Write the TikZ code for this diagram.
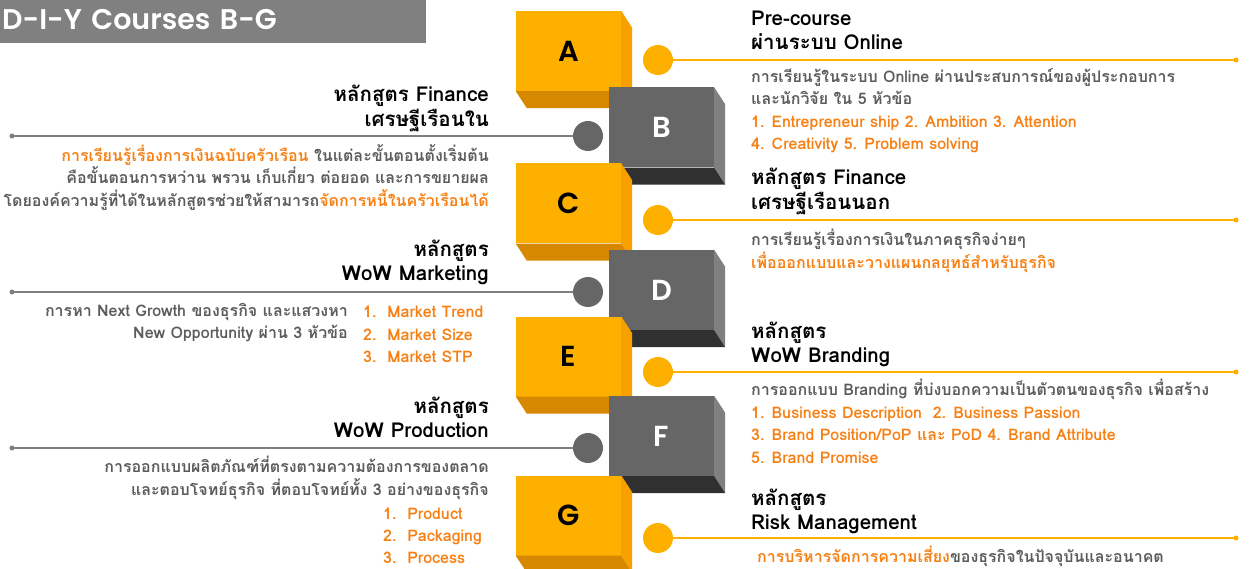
\documentclass[tikz,border=0pt]{standalone}
\usepackage{fontspec}
\setmainfont[Script=Thai]{Loma}
\newfontfamily\latinfont{Poppins}[BoldFont={Poppins SemiBold}]
\usetikzlibrary{calc}

\definecolor{ofront}{RGB}{253,176,0}
\definecolor{oside}{RGB}{248,160,0}
\definecolor{obot}{RGB}{214,136,0}
\definecolor{gfront}{RGB}{102,102,102}
\definecolor{gside}{RGB}{128,128,128}
\definecolor{gbot}{RGB}{48,48,48}
\definecolor{headgray}{RGB}{128,128,128}
\definecolor{txtgray}{RGB}{92,92,92}
\definecolor{hlorange}{RGB}{247,128,20}
\newcommand{\hlo}[1]{\textcolor{hlorange}{#1}}

\begin{document}
\begin{tikzpicture}[x=1pt, y=-1pt,
    block/.style={minimum width=105pt, minimum height=80pt, inner sep=0pt,
      font=\latinfont\bfseries\fontsize{29}{29}\selectfont},
    odot/.style={circle, fill=ofront, minimum size=30pt, inner sep=0pt},
    gdot/.style={circle, fill=gfront, minimum size=30pt, inner sep=0pt},
    oline/.style={draw=ofront, line width=1.5pt},
    gline/.style={draw=gside, line width=1.5pt},
    title/.style={inner sep=0pt, text=black, font=\bfseries\fontsize{20.5}{24.5}\selectfont},
    desc/.style={inner sep=0pt, text=txtgray, font=\bfseries\fontsize{16}{22.5}\selectfont}]

  \useasboundingbox (0,0) rectangle (1249,569);

  % header
  \node[fill=headgray, anchor=north west, minimum height=43pt, text width=422pt,
    inner xsep=2pt, align=left, text=white, text height=20pt, text depth=4pt,
    font=\latinfont\bfseries\fontsize{28.5}{28.5}\selectfont] (head) at (0,0) {D-I-Y Courses B-G};

  % the blocks
  \foreach \n/\cx/\cy/\fr/\si/\bo/\tc in {A/568.5/51/ofront/oside/obot/black,
      B/661.5/127.5/gfront/gside/gbot/white, C/568.5/203.5/ofront/oside/obot/black,
      D/661.5/290/gfront/gside/gbot/white, E/568.5/356.5/ofront/oside/obot/black,
      F/661.5/436/gfront/gside/gbot/white, G/568.5/515.5/ofront/oside/obot/black}{
    \node[block, fill=\fr, text=\tc] (\n) at (\cx,\cy) {\n};
    \fill[\si] (\n.north east) -- ++(11,17) -- ($(\n.south east)+(11,17)$) -- (\n.south east) -- cycle;
    \fill[\bo] (\n.south west) -- ++(11,17) -- ($(\n.south east)+(11,17)$) -- (\n.south east) -- cycle;
  }

  % right side
  \node[odot] (cA) at (658,60) {};
  \coordinate (eA) at (1236,60);
  \draw[oline] (cA) -- (eA);
  \fill[ofront] (eA) circle (2.5);
  \node[title, anchor=south west, align=left] (tA) at (751,50) {Pre-course\\ผ่านระบบ Online};
  \node[desc, anchor=north west, align=left] (dA) at (751,68) {การเรียนรู้ในระบบ Online ผ่านประสบการณ์ของผู้ประกอบการ\\และนักวิจัย ใน 5 หัวข้อ\\\hlo{1. Entrepreneur ship 2. Ambition 3. Attention}\\\hlo{4. Creativity 5. Problem solving}};

  \node[odot] (cC) at (658,220) {};
  \coordinate (eC) at (1236,220);
  \draw[oline] (cC) -- (eC);
  \fill[ofront] (eC) circle (2.5);
  \node[title, anchor=south west, align=left] (tC) at (751,215) {หลักสูตร Finance\\เศรษฐีเรือนนอก};
  \node[desc, anchor=north west, align=left] (dC) at (751,229) {การเรียนรู้เรื่องการเงินในภาคธุรกิจง่ายๆ\\\hlo{เพื่อออกแบบและวางแผนกลยุทธ์สำหรับธุรกิจ}};

  \node[odot] (cE) at (658,372) {};
  \coordinate (eE) at (1236,372);
  \draw[oline] (cE) -- (eE);
  \fill[ofront] (eE) circle (2.5);
  \node[title, anchor=south west, align=left] (tE) at (751,367) {หลักสูตร\\WoW Branding};
  \node[desc, anchor=north west, align=left] (dE) at (751,379) {การออกแบบ Branding ที่บ่งบอกความเป็นตัวตนของธุรกิจ เพื่อสร้าง\\\hlo{1. Business Description\ \ 2. Business Passion}\\\hlo{3. Brand Position/PoP และ PoD 4. Brand Attribute}\\\hlo{5. Brand Promise}};

  \node[odot] (cG) at (658,538) {};
  \coordinate (eG) at (1236,538);
  \draw[oline] (cG) -- (eG);
  \fill[ofront] (eG) circle (2.5);
  \node[title, anchor=south west, align=left] (tG) at (751,534) {หลักสูตร\\Risk Management};
  \node[desc, anchor=north west, align=left] (dG) at (757,546) {\hlo{การบริหารจัดการความเสี่ยง}ของธุรกิจในปัจจุบันและอนาคต};

  % left side
  \node[gdot] (cB) at (588,136) {};
  \coordinate (eB) at (12,136);
  \draw[gline] (cB) -- (eB);
  \fill[gside] (eB) circle (2.5);
  \node[title, anchor=south east, align=right] (tB) at (489,132) {หลักสูตร Finance\\เศรษฐีเรือนใน};
  \node[desc, anchor=north east, align=right] (dB) at (489,144) {\hlo{การเรียนรู้เรื่องการเงินฉบับครัวเรือน} ในแต่ละขั้นตอนตั้งเริ่มต้น\\คือขั้นตอนการหว่าน พรวน เก็บเกี่ยว ต่อยอด และการขยายผล\\โดยองค์ความรู้ที่ได้ในหลักสูตรช่วยให้สามารถ\hlo{จัดการหนี้ในครัวเรือนได้}};

  \node[gdot] (cD) at (588,292) {};
  \coordinate (eD) at (12,292);
  \draw[gline] (cD) -- (eD);
  \fill[gside] (eD) circle (2.5);
  \node[title, anchor=south east, align=right] (tD) at (489,285) {หลักสูตร\\WoW Marketing};
  \node[desc, anchor=north east, align=right] (dD) at (348,303) {การหา Next Growth ของธุรกิจ และแสวงหา\\New Opportunity ผ่าน 3 หัวข้อ};
  \node[desc, anchor=north west, align=left, text=hlorange] (lD) at (363,306) {1.\ \ Market Trend\\2.\ \ Market Size\\3.\ \ Market STP};

  \node[gdot] (cF) at (588,448) {};
  \coordinate (eF) at (12,448);
  \draw[gline] (cF) -- (eF);
  \fill[gside] (eF) circle (2.5);
  \node[title, anchor=south east, align=right] (tF) at (489,438) {หลักสูตร\\WoW Production};
  \node[desc, anchor=north east, align=right] (dF) at (489,456) {การออกแบบผลิตภัณฑ์ที่ตรงตามความต้องการของตลาด\\และตอบโจทย์ธุรกิจ ที่ตอบโจทย์ทั้ง 3 อย่างของธุรกิจ};
  \node[desc, anchor=north west, align=left, text=hlorange, font=\bfseries\fontsize{16}{22}\selectfont] (lF) at (383,508) {1.\ \ Product\\2.\ \ Packaging\\3.\ \ Process};
\end{tikzpicture}
\end{document}
